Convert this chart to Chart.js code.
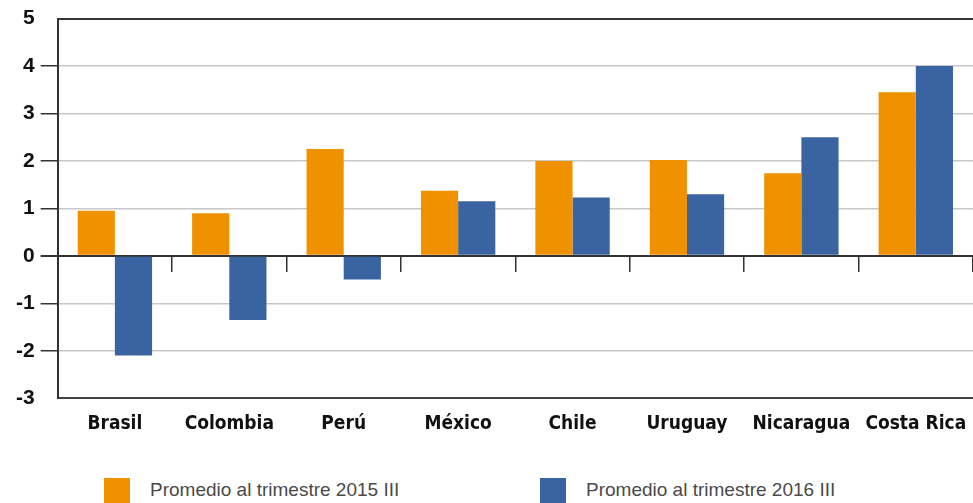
<!DOCTYPE html>
<html>
<head>
<meta charset="utf-8">
<script src="https://cdn.jsdelivr.net/npm/chart.js@4"></script>
<style>
  body { margin: 0; background: #fff; width: 973px; height: 503px; overflow: hidden; position: relative; }
  #wrap { position: absolute; left: 0; top: 0; width: 973px; height: 441px; }
  #legend { position: absolute; top: 478px; left: 0; width: 973px; font-family: "Liberation Sans", Arial, sans-serif; font-size: 19px; color: #4a4a4a; }
  .item { position: absolute; top: 0; display: flex; align-items: flex-start; }
  .box { width: 26px; height: 26px; margin-right: 20px; }
  .item span { line-height: 26px; margin-top: -1px; }
</style>
</head>
<body>
<div id="wrap"><canvas id="myBarChart"></canvas></div>
<div id="legend"></div>
<script>
const categories = ['Brasil', 'Colombia', 'Perú', 'México', 'Chile', 'Uruguay', 'Nicaragua', 'Costa Rica'];
const seriesNames = ['Promedio al trimestre 2015 III', 'Promedio al trimestre 2016 III'];
const values2015 = [0.95, 0.9, 2.25, 1.37, 2.0, 2.02, 1.74, 3.45];
const values2016 = [-2.1, -1.35, -0.5, 1.15, 1.23, 1.3, 2.5, 4.0];
const yTicks = [-3, -2, -1, 0, 1, 2, 3, 4, 5];
const colors = ['rgb(240, 145, 0)', 'rgb(58, 99, 161)'];

function renderBarChart() {
    const ctx = document.getElementById('myBarChart')?.getContext('2d');
    if (!ctx) {
        console.error("Bar chart canvas not found!");
        return;
    }

    const data = {
        labels: categories,
        datasets: [
            { label: seriesNames[0], data: values2015, backgroundColor: colors[0] },
            { label: seriesNames[1], data: values2016, backgroundColor: colors[1] }
        ]
    };

    // dark lines at 0 and at the top/bottom edges, light grey elsewhere
    const isEdge = (c) => c.tick && (c.tick.value === 5 || c.tick.value === -3);
    const isDark = (c) => c.tick && (c.tick.value === 0 || isEdge(c));

    new Chart(ctx, {
        type: 'bar',
        data: data,
        options: {
            responsive: true,
            maintainAspectRatio: false,
            animation: false,
            categoryPercentage: 0.65,
            barPercentage: 1,
            layout: { padding: { left: 10, top: 6, right: 0, bottom: 0 } },
            plugins: {
                legend: { display: false },
                tooltip: { enabled: false }
            },
            scales: {
                x: {
                    grid: { display: false },
                    border: { display: true, color: '#444', width: 2 },
                    ticks: {
                        padding: 6,
                        color: '#111',
                        font: { family: '"Liberation Sans Narrow", "DejaVu Sans Condensed", sans-serif', size: 19, weight: 'bold' }
                    }
                },
                xZero: {
                    type: 'category',
                    labels: categories,
                    offset: true,
                    position: { y: 0 },
                    border: { display: true, color: '#333', width: 2 },
                    grid: { offset: true, drawOnChartArea: false, drawTicks: true, tickLength: 15, color: '#333', lineWidth: 1.5 },
                    ticks: { display: false }
                },
                y: {
                    min: yTicks[0],
                    max: yTicks[yTicks.length - 1],
                    afterBuildTicks: (axis) => { axis.ticks = yTicks.map(v => ({ value: v })); },
                    border: { display: true, color: '#333', width: 2 },
                    grid: {
                        tickLength: 17,
                        lineWidth: (c) => isDark(c) ? 2 : 1.5,
                        color: (c) => isDark(c) ? '#333' : '#c8c8c8',
                        tickColor: (c) => isEdge(c) ? 'rgba(0,0,0,0)' : '#333'
                    },
                    ticks: {
                        padding: 6,
                        color: '#111',
                        font: { family: '"Liberation Sans", Arial, sans-serif', size: 21, weight: 'bold' }
                    }
                }
            }
        }
    });
}

function renderLegend() {
    const legend = document.getElementById('legend');
    const lefts = [104, 540];
    seriesNames.forEach((name, i) => {
        const item = document.createElement('div');
        item.className = 'item';
        item.style.left = lefts[i] + 'px';
        item.innerHTML = '<div class="box" style="background:' + colors[i] + '"></div><span>' + name + '</span>';
        legend.appendChild(item);
    });
}

window.onload = function() {
    renderBarChart();
    renderLegend();
};
</script>
</body>
</html>
